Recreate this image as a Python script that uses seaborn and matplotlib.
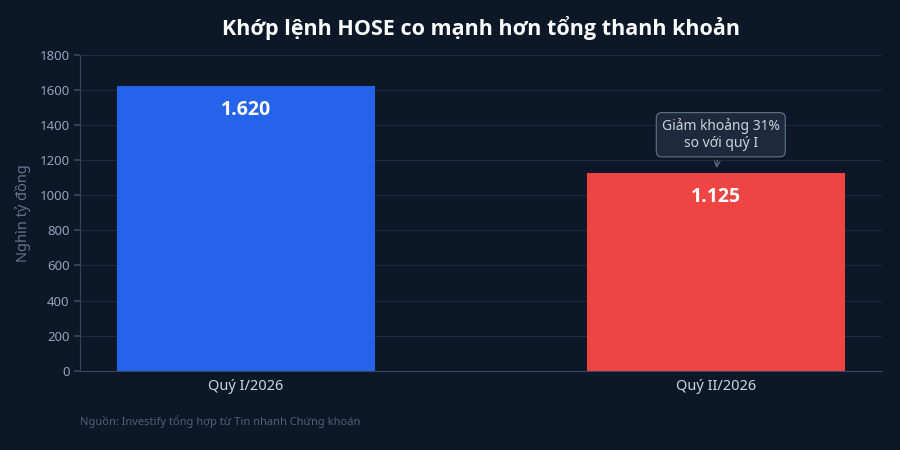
import matplotlib
matplotlib.use("Agg")
import matplotlib.pyplot as plt
import seaborn as sns
import pandas as pd

quarters = ["Quý I/2026", "Quý II/2026"]
values = [1620, 1125]
value_labels = ["1.620", "1.125"]
bar_colors = ["#2563eb", "#ef4444"]

bg = "#0c1727"
sns.set_theme(style="dark")
plt.rcParams["font.family"] = ["Noto Sans", "DejaVu Sans"]
bold_font = ["Open Sans", "Noto Sans", "DejaVu Sans"]

df = pd.DataFrame({"quarter": quarters, "value": values})

fig, ax = plt.subplots(figsize=(9, 4.5), dpi=100)
fig.patch.set_facecolor(bg)
ax.set_facecolor(bg)
fig.subplots_adjust(left=0.089, right=0.98, top=0.878, bottom=0.176)

sns.barplot(data=df, x="quarter", y="value", hue="quarter", palette=bar_colors,
            width=0.55, legend=False, ax=ax, saturation=1, edgecolor="none")

ax.set_xlim(-0.353, 1.353)
ax.set_ylim(0, 1800)
ax.set_yticks(range(0, 1801, 200))
ax.yaxis.grid(True, color="#1f2b3d", linewidth=0.8)
ax.xaxis.grid(False)
ax.set_axisbelow(True)

for s in ["top", "right"]:
    ax.spines[s].set_visible(False)
for s in ["left", "bottom"]:
    ax.spines[s].set_visible(True)
    ax.spines[s].set_color("#3a4658")
    ax.spines[s].set_linewidth(0.8)

ax.tick_params(axis="y", colors="#3a4658", labelcolor="#94a3b8", labelsize=9.5, length=4, left=True)
ax.tick_params(axis="x", colors="#3a4658", labelcolor="#cbd5e1", labelsize=10.5, length=0, pad=6)
ax.set_xlabel("")
ax.set_ylabel("Nghìn tỷ đồng", color="#64748b", fontsize=10.5, labelpad=6)

for i, (v, lab) in enumerate(zip(values, value_labels)):
    ax.text(i, v - 75, lab, ha="center", va="top", color="white",
            fontsize=14, fontweight="bold", family=bold_font)

ax.annotate("Giảm khoảng 31%\nso với quý I", xy=(1, 1125 + 15), xytext=(1.01, 1345),
            ha="center", va="center", color="#cbd5e1", fontsize=10,
            bbox=dict(boxstyle="round,pad=0.4", fc="#1e2a3b", ec="#64748b", lw=0.8),
            arrowprops=dict(arrowstyle="->", color="#64748b", lw=0.8,
                            shrinkA=2, shrinkB=2))

ax.set_title("Khớp lệnh HOSE co mạnh hơn tổng thanh khoản", color="white",
             fontsize=15.5, fontweight="bold", family=bold_font, pad=14)
fig.text(0.089, 0.055, "Nguồn: Investify tổng hợp từ Tin nhanh Chứng khoán",
         color="#526073", fontsize=8)

fig.savefig("out.png", dpi=100, facecolor=bg)
